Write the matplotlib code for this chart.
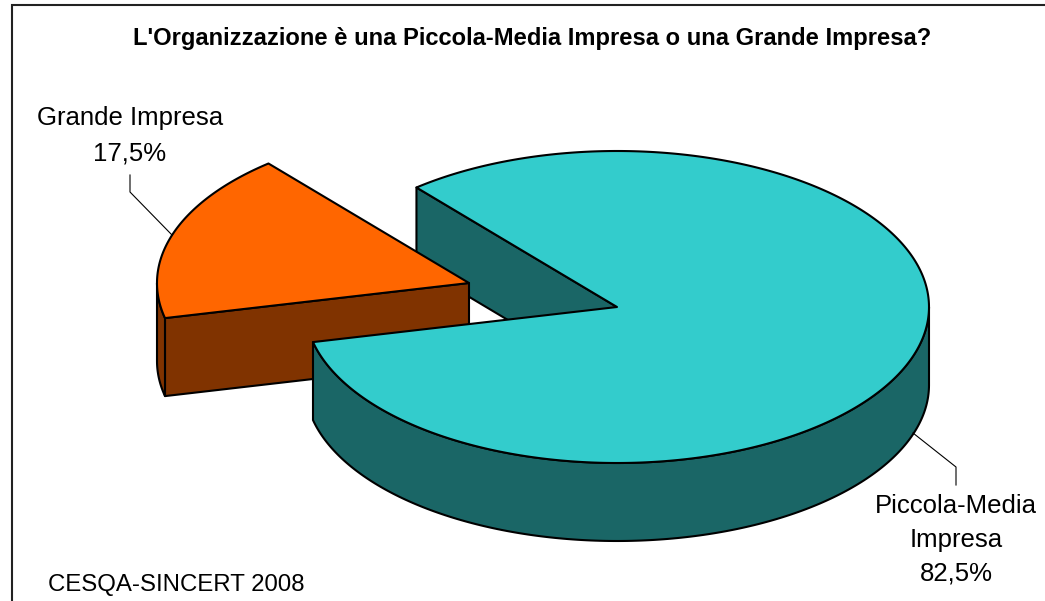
import numpy as np
import matplotlib
matplotlib.use('Agg')
import matplotlib.pyplot as plt
from matplotlib.patches import Polygon

# Data
categories = ['Grande Impresa', 'Piccola-Media Impresa']
shares = [17.5, 82.5]
share_labels = ['17,5%', '82,5%']
title = "L'Organizzazione è una Piccola-Media Impresa o una Grande Impresa?"
source = 'CESQA-SINCERT 2008'

# Pie geometry in image pixels
W, H = 1045, 601
cx, cy = 617, 307
rx, ry = 312, 156
depth = 78
explode_dx, explode_dy = -148, -24
start_angle = 130

plt.rcParams['font.family'] = ['Liberation Sans', 'DejaVu Sans']

fig = plt.figure(figsize=(W / 100, H / 100), dpi=100)
ax = fig.add_axes([0, 0, 1, 1])
ax.set_xlim(0, W)
ax.set_ylim(H, 0)
ax.axis('off')


def arc(a0, a1, x0, y0, n=200):
    t = np.radians(np.linspace(a0, a1, n))
    return np.column_stack([x0 + rx * np.cos(t), y0 - ry * np.sin(t)])


def poly(pts, color):
    ax.add_patch(Polygon(pts, closed=True, facecolor=color, edgecolor='black',
                         linewidth=1.5, joinstyle='round'))


# Angles of the slices, the big one runs clockwise from the gap
span_small = shares[0] / sum(shares) * 360
a_top = start_angle
a_low = start_angle + span_small

# Inner wall of the big slice (back)
p_top = arc(a_top, a_top, cx, cy, 1)[0]
poly([p_top, (cx, cy), (cx, cy + depth), (p_top[0], p_top[1] + depth)], '#1A6666')

# Small slice, pulled out
ox, oy = cx + explode_dx, cy + explode_dy
p_low = arc(a_low, a_low, ox, oy, 1)[0]
poly([(ox, oy), p_low, (p_low[0], p_low[1] + depth), (ox, oy + depth)], '#803300')
rim = arc(180, a_low, ox, oy, 40)
poly(np.vstack([rim, rim[::-1] + [0, depth]]), '#803300')
poly(np.vstack([[(ox, oy)], arc(a_top, a_low, ox, oy)]), '#FF6600')

# Big slice
rim = arc(a_low, 360, cx, cy)
poly(np.vstack([rim, rim[::-1] + [0, depth]]), '#1A6666')
poly(np.vstack([[(cx, cy)], arc(a_low, a_top + 360, cx, cy, 400)]), '#33CCCC')

# Chart frame, open at right and bottom
ax.plot([12, 12, W], [H, 5, 5], color='#222222', lw=1.5, solid_joinstyle='miter')

# Leader lines
ax.plot([130, 130, 172], [175, 192, 235], color='black', lw=0.8)
ax.plot([913, 956, 956], [433, 467, 485], color='black', lw=0.8)

# Texts
ax.text(532, 38, title, ha='center', va='center', fontsize=17.1, fontweight='bold')
ax.text(130, 118, categories[0], ha='center', va='center', fontsize=18.5)
ax.text(130, 153, share_labels[0], ha='center', va='center', fontsize=18.5)
ax.text(956, 506, 'Piccola-Media', ha='center', va='center', fontsize=18.5)
ax.text(956, 540, 'Impresa', ha='center', va='center', fontsize=18.5)
ax.text(956, 574, share_labels[1], ha='center', va='center', fontsize=18.5)
ax.text(48, 585, source, ha='left', va='center', fontsize=17.3)

fig.savefig('out.png', dpi=100)
